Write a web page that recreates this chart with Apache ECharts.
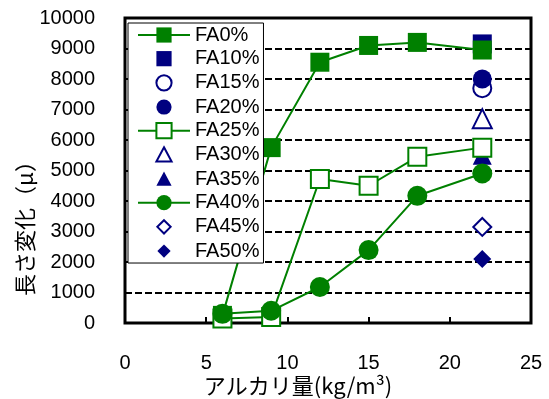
<!DOCTYPE html>
<html><head><meta charset="utf-8">
<script src="https://cdn.jsdelivr.net/npm/echarts@6/dist/echarts.min.js"></script>
<style>html,body{margin:0;padding:0;background:#fff}#c{width:549px;height:399px}</style>
</head><body><div id="c"></div>
<script>
const xValues = [6, 9, 12, 15, 18, 22];
const fa0 = [250, 5750, 8550, 9100, 9200, 8950];
const fa25 = [150, 200, 4720, 4500, 5450, 5750];
const fa40 = [300, 400, 1180, 2390, 4170, 4900];
const singleX = 22;
const fa10 = 9150, fa15 = 7700, fa20 = 8000, fa30 = 6700, fa35 = 5500, fa45 = 3150, fa50 = 2100;
const seriesNames = ['FA0%', 'FA10%', 'FA15%', 'FA20%', 'FA25%', 'FA30%', 'FA35%', 'FA40%', 'FA45%', 'FA50%'];
const yTitle = '長さ変化（μ）';
const xTitle = 'アルカリ量(kg/m³)';

const GREEN = '#008000', NAVY = '#000080';
const pair = (xs, ys) => xs.map((x, i) => [x, ys[i]]);

// legend icons padded inside a 20x20 box so they keep a small size
const ICON = {
  rect: 'path://M0,0 M20,20 M2,2 L18,2 L18,18 L2,18 Z',
  circle: 'path://M0,0 M20,20 M18,10 A8,8 0 1 1 2,10 A8,8 0 1 1 18,10 Z',
  triangle: 'path://M0,0 M20,20 M10,2 L18,17 L2,17 Z',
  diamond: 'path://M0,0 M20,20 M10,3 L17,10 L10,17 L3,10 Z'
};

function lineSeries(name, data, symbol, size, filled) {
  return {
    name, type: 'line', data, symbol, symbolSize: size,
    lineStyle: { color: GREEN, width: 2 },
    itemStyle: { color: filled ? GREEN : '#fff', borderColor: GREEN, borderWidth: filled ? 0 : 2 },
    emphasis: { disabled: true }
  };
}
function pointSeries(name, val, symbol, size, filled) {
  return {
    name, type: 'scatter', data: [[singleX, val]], symbol, symbolSize: size,
    itemStyle: { color: filled ? NAVY : '#fff', borderColor: NAVY, borderWidth: filled ? 0 : 2, opacity: 1 },
    emphasis: { disabled: true }
  };
}

const series = [
  lineSeries(seriesNames[0], pair(xValues, fa0), 'rect', 19, true),
  pointSeries(seriesNames[1], fa10, 'rect', 19, true),
  pointSeries(seriesNames[2], fa15, 'circle', 18, false),
  pointSeries(seriesNames[3], fa20, 'circle', 19, true),
  lineSeries(seriesNames[4], pair(xValues, fa25), 'rect', 18, false),
  pointSeries(seriesNames[5], fa30, 'triangle', 19, false),
  pointSeries(seriesNames[6], fa35, 'triangle', 19, true),
  lineSeries(seriesNames[7], pair(xValues, fa40), 'circle', 20, true),
  pointSeries(seriesNames[8], fa45, 'diamond', 18, false),
  pointSeries(seriesNames[9], fa50, 'diamond', 18, true)
];

const legendData = series.map(s => s.type === 'line' ? { name: s.name } : { name: s.name, icon: ICON[s.symbol] });

const chart = echarts.init(document.getElementById('c'), null, { renderer: 'canvas' });
chart.setOption({
  animation: false,
  grid: { left: 125, right: 18, top: 18, bottom: 76, show: true, borderColor: '#000', borderWidth: 3, backgroundColor: 'transparent' },
  xAxis: {
    type: 'value', min: 0, max: 25, interval: 5,
    axisLine: { show: false },
    axisTick: { show: true, inside: true, length: 6, lineStyle: { color: '#000', width: 2 } },
    axisLabel: { color: '#000', fontSize: 20, fontFamily: 'Liberation Sans, Arial', margin: 30 },
    splitLine: { show: false }
  },
  yAxis: {
    type: 'value', min: 0, max: 10000, interval: 1000,
    axisLine: { show: false },
    axisTick: { show: true, inside: true, length: 6, lineStyle: { color: '#000', width: 2 } },
    axisLabel: { color: '#000', fontSize: 20, fontFamily: 'Liberation Sans, Arial', margin: 30, formatter: v => String(v) },
    splitLine: { show: true, lineStyle: { color: '#000', width: 2, type: [7, 3] } }
  },
  legend: {
    orient: 'vertical', left: 128, top: 23,
    padding: [2, 4, 2, 9],
    itemWidth: 52, itemHeight: 19, itemGap: 3.67,
    symbolKeepAspect: true,
    backgroundColor: '#fff', borderColor: '#000', borderWidth: 1,
    textStyle: { color: '#000', fontSize: 20, fontFamily: 'Liberation Sans, Arial', lineHeight: 12, padding: [8, 0, 0, 0] },
    data: legendData
  },
  graphic: [
    { type: 'text', x: 25, y: 223, rotation: Math.PI / 2,
      style: { text: yTitle, fill: '#000', font: '22px "Noto Sans CJK JP"', align: 'center', verticalAlign: 'middle' } },
    { type: 'text', x: 298, y: 386,
      style: { text: xTitle, fill: '#000', font: '22px "Noto Sans CJK JP"', align: 'center', verticalAlign: 'middle' } }
  ],
  series
});
</script></body></html>
